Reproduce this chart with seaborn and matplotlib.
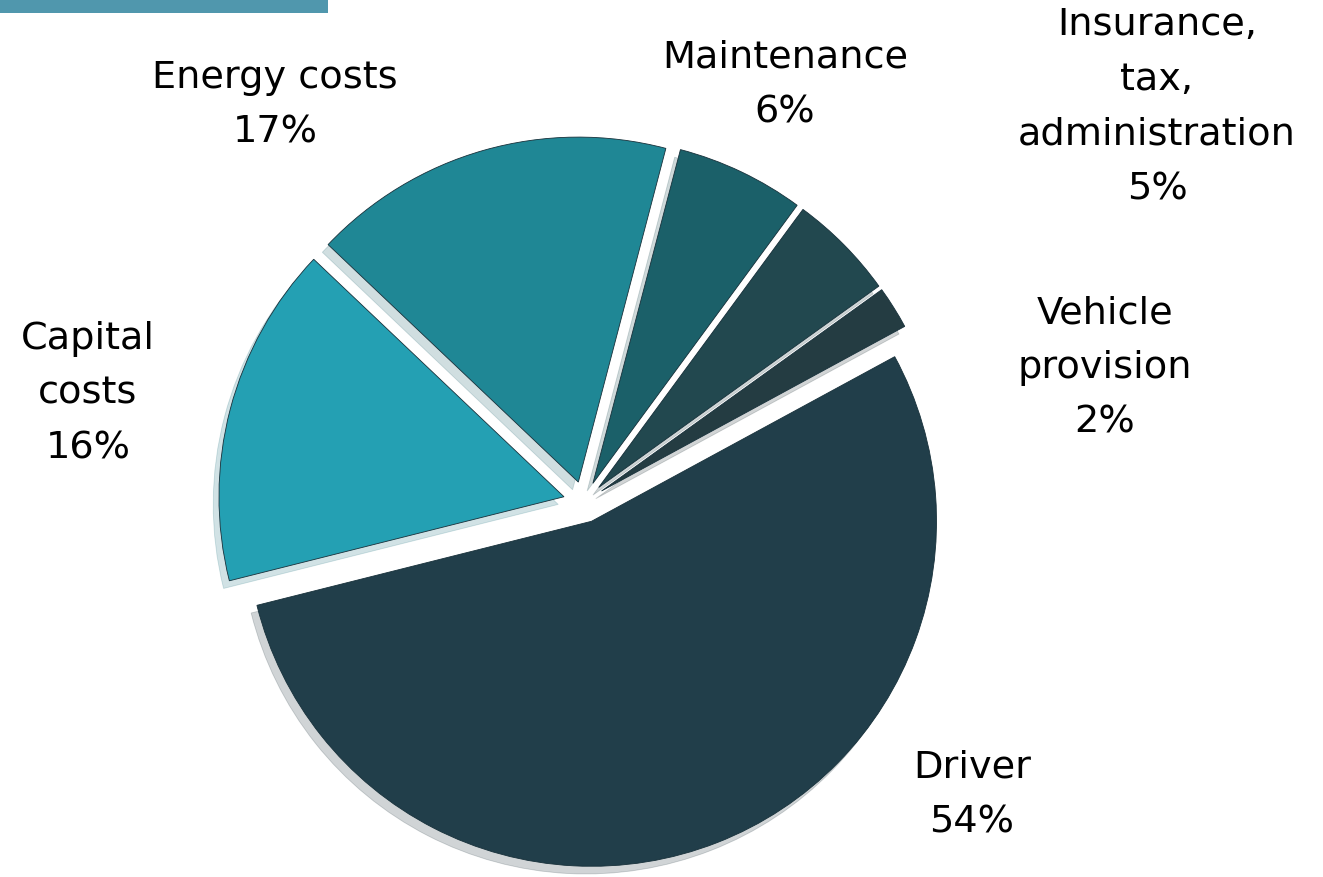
import seaborn as sns
import matplotlib.pyplot as plt
from matplotlib.patches import Rectangle

# Cost shares (%), in drawing order (counter-clockwise from the right)
categories = ['Vehicle\nprovision', 'Insurance,\ntax,\nadministration', 'Maintenance',
              'Energy costs', 'Capital\ncosts', 'Driver']
shares = [2, 5, 6, 17, 16, 54]
colors = ['#243c42', '#22484f', '#1b6069', '#1f8795', '#24a0b3', '#213e4a']

# label centres in pixels (x, y from top)
label_pos = [(1105, 368), (1157, 107), (785, 85), (275, 105), (88, 394), (972, 795)]

sns.set_theme(style='white')
plt.rcParams['font.family'] = ['DejaVu Sans']

W, H = 1323, 877
fig = plt.figure(figsize=(W / 100, H / 100), dpi=100)

# square axes centred on the pie centre, radius ~345 px
cx, cy, r, L = 584, 502, 345, 1.5
S = 2 * L * r
ax = fig.add_axes([(cx - S / 2) / W, (H - cy - S / 2) / H, S / W, S / H])

ax.pie(shares, colors=colors, startangle=28.5, counterclock=True,
       explode=[0.06] * len(shares),
       shadow={'ox': -0.012, 'oy': -0.016, 'shade': 0.3, 'alpha': 0.2},
       wedgeprops={'edgecolor': '#17303a', 'linewidth': 0.6})
ax.set_xlim(-L, L)
ax.set_ylim(-L, L)
ax.axis('off')

for cat, val, (px, py) in zip(categories, shares, label_pos):
    fig.text(px / W, 1 - py / H, f'{cat}\n{val}%', ha='center', va='center',
             multialignment='center', fontsize=27.5, linespacing=1.67, color='black')

# bar in the top-left corner
fig.add_artist(Rectangle((0, 1 - 13 / H), 328 / W, 13 / H, transform=fig.transFigure,
                         color='#5097ad', lw=0))

plt.savefig('out.png', dpi=100)
